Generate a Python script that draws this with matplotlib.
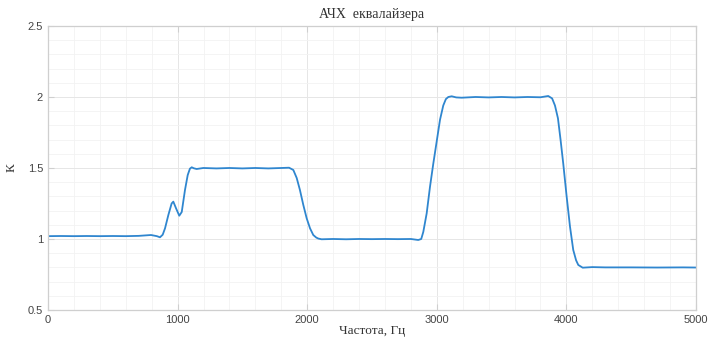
import numpy as np
import matplotlib
matplotlib.use('Agg')
import matplotlib.pyplot as plt
from matplotlib.ticker import MultipleLocator

# Frequency response values
freq = [0, 100, 200, 300, 400, 500, 600, 700, 795, 840, 864, 885, 903, 929,
        954, 967, 988, 1013, 1032, 1057, 1078, 1095, 1109, 1125, 1147, 1199,
        1300, 1400, 1500, 1600, 1700, 1800, 1860, 1893, 1919, 1944, 1970, 1996,
        2022, 2047, 2070, 2086, 2111, 2200, 2300, 2400, 2500, 2600, 2700, 2800,
        2857, 2880, 2896, 2922, 2948, 2973, 2999, 3025, 3050, 3070, 3089, 3115,
        3150, 3192, 3300, 3400, 3500, 3600, 3700, 3800, 3860, 3890, 3912, 3935,
        3955, 3976, 4002, 4028, 4053, 4075, 4092, 4126, 4200, 4300, 4500, 4700,
        4900, 5000]
gain = [1.02, 1.021, 1.02, 1.021, 1.02, 1.021, 1.02, 1.022, 1.028, 1.02, 1.012,
        1.03, 1.075, 1.17, 1.25, 1.263, 1.216, 1.164, 1.19, 1.345, 1.45, 1.495,
        1.505, 1.498, 1.493, 1.5, 1.497, 1.5, 1.497, 1.5, 1.497, 1.5, 1.502,
        1.486, 1.43, 1.345, 1.24, 1.146, 1.075, 1.028, 1.01, 1.003, 0.998, 1.0,
        0.998, 1.0, 0.999, 1.0, 0.999, 1.0, 0.993, 1.0, 1.05, 1.18, 1.37, 1.53,
        1.685, 1.84, 1.94, 1.985, 2.0, 2.005, 1.997, 1.995, 2.0, 1.997, 2.0,
        1.997, 2.0, 1.998, 2.007, 1.99, 1.94, 1.85, 1.70, 1.53, 1.30, 1.087,
        0.923, 0.85, 0.817, 0.798, 0.802, 0.8, 0.8, 0.799, 0.8, 0.799]

xticks = [0, 1000, 2000, 3000, 4000, 5000]
yticks = [0.5, 1, 1.5, 2, 2.5]

fig = plt.figure(figsize=(7.08, 3.42), dpi=100)
ax = fig.add_axes([0.0678, 0.0936, 0.9152, 0.8304])

ax.plot(freq, gain, color='#2f86cf', linewidth=1.3)

ax.set_xlim(0, 5000)
ax.set_ylim(0.5, 2.5)
ax.set_xticks(xticks)
ax.set_yticks(yticks)
ax.set_yticklabels(['0.5', '1', '1.5', '2', '2.5'])
ax.xaxis.set_minor_locator(MultipleLocator(200))
ax.yaxis.set_minor_locator(MultipleLocator(0.1))

ax.grid(True, which='major', color='#e6e6e6', linewidth=0.7)
ax.grid(True, which='minor', color='#f2f2f2', linewidth=0.6)
ax.set_axisbelow(True)

for s in ax.spines.values():
    s.set_color('#cfcfcf')
    s.set_linewidth(0.9)

ax.tick_params(which='major', direction='in', length=4, width=0.8,
               color='#cfcfcf', top=True, right=True,
               labelsize=8, labelcolor='#444444')
ax.tick_params(which='minor', length=0, top=True, right=True)
for lab in ax.get_xticklabels() + ax.get_yticklabels():
    lab.set_family(['Liberation Sans', 'DejaVu Sans'])

serif = ['Liberation Serif', 'DejaVu Serif']
ax.set_title('АЧХ  еквалайзера', family=serif, fontsize=10, color='#333333', pad=6)
ax.set_xlabel('Частота, Гц', family=serif, fontsize=9.5, color='#333333', labelpad=0)
ax.set_ylabel('К', family=serif, fontsize=9.5, color='#333333')
ax.yaxis.set_label_coords(-0.047, 0.5)

fig.savefig('out.png', dpi=100)
